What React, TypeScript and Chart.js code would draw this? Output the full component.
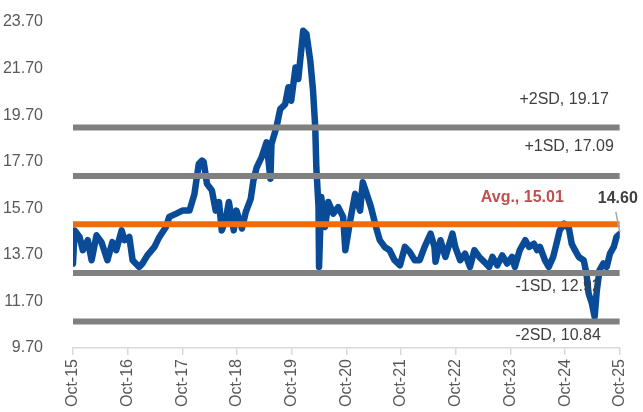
import React, { useEffect, useRef } from "react";
import { Chart, registerables } from "chart.js";

Chart.register(...registerables);

// X axis: years since Oct-15 (0 = Oct-15, 10 = Oct-25)
const xTickLabels = ["Oct-15", "Oct-16", "Oct-17", "Oct-18", "Oct-19", "Oct-20", "Oct-21", "Oct-22", "Oct-23", "Oct-24", "Oct-25"];
const yTickValues = [9.7, 11.7, 13.7, 15.7, 17.7, 19.7, 21.7, 23.7];

const seriesYears = [
  0.0, 0.03, 0.12, 0.18, 0.27, 0.34, 0.43, 0.52, 0.63, 0.72, 0.79, 0.89, 0.94, 1.03, 1.09, 1.21, 1.27, 1.36, 1.49, 1.58,
  1.7, 1.76, 1.89, 2.0, 2.13, 2.22, 2.3, 2.36, 2.39, 2.45, 2.54, 2.61, 2.67, 2.72, 2.79, 2.85, 2.94, 2.99, 3.09, 3.16,
  3.25, 3.3, 3.36, 3.45, 3.54, 3.61, 3.63, 3.72, 3.79, 3.88, 3.94, 3.99, 4.07, 4.12, 4.21, 4.27, 4.34, 4.39, 4.43, 4.45,
  4.49, 4.5, 4.54, 4.61, 4.67, 4.76, 4.85, 4.94, 4.98, 5.03, 5.07, 5.16, 5.25, 5.3, 5.36, 5.45, 5.54, 5.61, 5.7, 5.79,
  5.88, 5.98, 6.07, 6.16, 6.25, 6.34, 6.43, 6.54, 6.61, 6.63, 6.72, 6.81, 6.94, 6.99, 7.08, 7.17, 7.26, 7.34, 7.43, 7.52,
  7.61, 7.67, 7.76, 7.85, 7.94, 8.03, 8.08, 8.17, 8.27, 8.34, 8.43, 8.49, 8.54, 8.63, 8.7, 8.78, 8.85, 8.9, 8.98, 9.07,
  9.12, 9.18, 9.25, 9.34, 9.39, 9.43, 9.49, 9.54, 9.58, 9.63, 9.7, 9.76, 9.82, 9.89, 9.94, 10.0,
];
const seriesValues = [
  13.33, 14.75, 14.47, 13.9, 14.33, 13.47, 14.54, 14.25, 13.47, 14.25, 13.9, 14.75, 14.33, 14.47, 13.47, 13.18, 13.33, 13.68, 14.04, 14.47,
  14.9, 15.33, 15.47, 15.6, 15.6, 16.3, 17.6, 17.75, 17.69, 16.75, 16.47, 15.6, 15.97, 14.75, 15.18, 15.97, 14.75, 15.6, 14.83, 15.54,
  16.1, 16.9, 17.46, 17.9, 18.53, 16.97, 18.46, 19.18, 19.96, 20.17, 20.9, 20.32, 21.75, 21.25, 23.32, 23.18, 22.03, 20.75, 19.18, 17.46,
  15.75, 13.18, 16.18, 14.9, 15.97, 15.47, 15.75, 15.33, 13.9, 14.61, 15.18, 16.32, 15.6, 16.82, 16.4, 15.75, 14.9, 14.33, 14.04, 13.9,
  13.47, 13.25, 14.04, 13.82, 13.47, 13.47, 14.04, 14.61, 14.04, 13.4, 14.33, 13.61, 14.61, 14.04, 13.47, 13.75, 13.18, 13.9, 13.61, 13.4,
  13.18, 13.61, 13.25, 13.68, 13.33, 13.61, 13.18, 13.9, 14.33, 14.04, 14.18, 13.9, 14.04, 13.47, 13.18, 13.6, 14.25, 14.75, 15.04, 14.83,
  14.18, 13.9, 13.61, 13.47, 12.9, 12.04, 11.61, 11.04, 12.18, 13.04, 13.33, 13.18, 13.75, 14.04, 14.47, 14.6,
];

const bandNames = ["+2SD", "+1SD", "Avg.", "-1SD", "-2SD"];
const bandValues = [19.17, 17.09, 15.01, 12.92, 10.84];
const lastValueLabel = "14.60";

const BLUE = "#0a4b98";
const GRAY = "#808080";
const ORANGE = "#ed6c0e";
const FONT = "'Liberation Sans', Arial, sans-serif";

const labelPlugin = {
  id: "bandLabels",
  afterDatasetsDraw(chart: any) {
    const { ctx } = chart;
    const xs = chart.scales.x;
    const ys = chart.scales.y;
    const right = xs.getPixelForValue(10);
    ctx.save();
    ctx.textBaseline = "middle";
    ctx.textAlign = "right";
    // per-band placement: [dx from right edge, dy from line]
    const place: Record<string, [number, number]> = {
      "+2SD": [-11, -28],
      "+1SD": [-6, -29],
      "Avg.": [-56, -27],
      "-1SD": [-19, 14],
      "-2SD": [-19, 14.5],
    };
    bandNames.forEach((name, i) => {
      const v = bandValues[i];
      const [dx, dy] = place[name];
      const py = ys.getPixelForValue(v);
      const isAvg = name === "Avg.";
      ctx.font = `${isAvg ? "bold " : ""}16px ${FONT}`;
      ctx.fillStyle = isAvg ? "#c0504d" : "#404040";
      ctx.fillText(`${name}, ${v.toFixed(2)}`, right + dx, py + dy);
    });
    // last value callout
    const lx = xs.getPixelForValue(seriesYears[seriesYears.length - 1]);
    const ly = ys.getPixelForValue(seriesValues[seriesValues.length - 1]);
    ctx.strokeStyle = "#a6a6a6";
    ctx.lineWidth = 1.5;
    ctx.beginPath();
    ctx.moveTo(lx - 4, ly - 22);
    ctx.lineTo(lx, ly - 2);
    ctx.stroke();
    ctx.font = `bold 16px ${FONT}`;
    ctx.fillStyle = "#404040";
    ctx.textAlign = "center";
    ctx.fillText(lastValueLabel, lx - 2, ly - 35);
    ctx.restore();
  },
};

export default function App() {
  const ref = useRef<HTMLCanvasElement | null>(null);
  useEffect(() => {
    if (!ref.current) return;
    const bandDatasets = bandNames.map((name, i) => ({
      label: name,
      data: [
        { x: 0, y: bandValues[i] },
        { x: xTickLabels.length - 1, y: bandValues[i] },
      ],
      borderColor: name === "Avg." ? ORANGE : GRAY,
      borderWidth: 6,
      borderCapStyle: "butt" as const,
      pointRadius: 0,
      order: 0,
    }));
    const chart = new Chart(ref.current, {
      type: "line",
      data: {
        datasets: [
          ...bandDatasets,
          {
            label: "Series",
            data: seriesYears.map((x, i) => ({ x, y: seriesValues[i] })),
            borderColor: BLUE,
            borderWidth: 6.5,
            borderJoinStyle: "round",
            borderCapStyle: "round",
            pointRadius: 0,
            tension: 0,
            order: 1,
          },
        ],
      },
      options: {
        animation: false,
        responsive: false,
        devicePixelRatio: 1,
        layout: { padding: { top: 22, right: 19, left: 0, bottom: 0 } },
        plugins: { legend: { display: false }, tooltip: { enabled: false } },
        scales: {
          x: {
            type: "linear",
            min: 0,
            max: xTickLabels.length - 1,
            afterBuildTicks: (s: any) => {
              s.ticks = xTickLabels.map((_, i) => ({ value: i }));
            },
            afterFit: (s: any) => {
              s.height = 64;
            },
            ticks: {
              callback: (v: any) => xTickLabels[Math.round(Number(v))],
              autoSkip: false,
              minRotation: 90,
              maxRotation: 90,
              padding: 4,
              color: "#595959",
              font: { family: FONT, size: 16 },
            },
            grid: { display: true, drawOnChartArea: false, tickLength: 7, color: "#d9d9d9", lineWidth: 1.5 },
            border: { display: true, color: "#d9d9d9", width: 1.5 },
          },
          y: {
            type: "linear",
            min: 9.7,
            max: 23.7,
            afterBuildTicks: (s: any) => {
              s.ticks = yTickValues.map((v) => ({ value: v }));
            },
            afterFit: (s: any) => {
              s.width = 73;
              s.paddingTop = 0;
              s.paddingBottom = 0;
            },
            ticks: {
              callback: (v: any) => Number(v).toFixed(2),
              padding: 22,
              color: "#595959",
              font: { family: FONT, size: 16 },
            },
            grid: { display: false },
            border: { display: false },
          },
        },
      },
      plugins: [labelPlugin],
    } as any);
    return () => chart.destroy();
  }, []);
  return (
    <div style={{ position: "fixed", left: 0, top: 0, width: 643, height: 412, background: "#fff" }}>
      <canvas ref={ref} width={643} height={412} />
    </div>
  );
}
